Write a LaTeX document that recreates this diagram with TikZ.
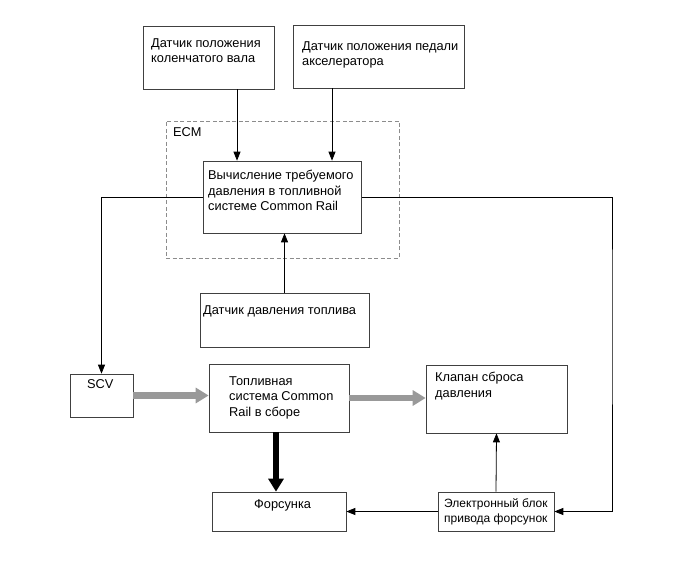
\documentclass[tikz,border=0pt]{standalone}
\usepackage{fontspec}
\setmainfont{Liberation Sans}
\usetikzlibrary{arrows.meta,calc}
\begin{document}
\begin{tikzpicture}[x=1pt,y=-1pt,
  box/.style={draw=black!75,line width=0.7pt,rectangle,inner sep=0pt},
  txt/.style={inner sep=0pt,anchor=north west,align=left,font=\fontsize{12.8}{15.5}\selectfont},
  smalltxt/.style={txt,font=\fontsize{12}{15.5}\selectfont},
  arr/.style={draw=black,line width=0.8pt,-{Triangle[length=9pt,width=7pt]}},
  garr/.style={draw=black!40,line width=6.5pt,-{Triangle[length=13pt,width=15pt]}},
  barr/.style={draw=black,line width=6.5pt,-{Triangle[length=13pt,width=15pt]}},
  ecmbox/.style={draw=black!45,line width=0.8pt,dash pattern=on 4pt off 2.5pt}
]
\useasboundingbox[fill=white] (0,0) rectangle (691,564);

% ECM dashed frame
\node[ecmbox,rectangle,inner sep=0pt,minimum width=233pt,minimum height=137pt] (ecm) at (282.5,189.5) {};
\node[txt] (ecml) at (173,127) {ECM};

% boxes
\node[box,minimum width=131pt,minimum height=63pt] (crank) at (208.5,57.5) {};
\node[txt] (crankt) at (151,38) {Датчик положения\\коленчатого вала};

\node[box,minimum width=171pt,minimum height=63pt] (pedal) at (378.5,56.5) {};
\node[txt] (pedalt) at (302,41) {Датчик положения педали\\акселератора};

\node[box,minimum width=158pt,minimum height=72pt] (calc) at (282.5,197) {};
\node[txt] (calct) at (208,170) {Вычисление требуемого\\давления в топливной\\системе Common Rail};

\node[box,minimum width=169pt,minimum height=54pt] (fps) at (284.5,320) {};
\node[txt] (fpst) at (203,305) {Датчик давления топлива};

\node[box,minimum width=63pt,minimum height=43pt] (scv) at (101.5,395.5) {};
\node[txt] (scvt) at (87,379) {SCV};

\node[box,minimum width=140pt,minimum height=68pt] (topl) at (279,398) {};
\node[txt] (toplt) at (229,376) {Топливная\\система Common\\Rail в сборе};

\node[box,minimum width=141pt,minimum height=68pt] (klap) at (496.5,399) {};
\node[txt] (klapt) at (435,372) {Клапан сброса\\давления};

\node[box,minimum width=134pt,minimum height=39pt] (fors) at (279,511.5) {};
\node[txt] (forst) at (254,499) {Форсунка};

\node[box,minimum width=116pt,minimum height=39pt] (elec) at (496,511.5) {};
\node[smalltxt] (elect) at (444,498) {Электронный блок\\привода форсунок};

\coordinate (rc) at (612,300);

% connectors
\draw[arr] (crank.south -| 237,0) -- (calc.north -| 237,0);
\draw[arr] (pedal.south -| 332,0) -- (calc.north -| 332,0);
\draw[arr] (fps.north) -- (calc.south -| fps.north);
\draw[arr] (calc.west) -| (scv.north);
\draw[arr] (calc.east) -| (rc) |- (elec.east);
\draw[arr] (elec.west) -- (fors.east);
\draw[arr] (elec.north) -- (klap.south);
\draw[garr] (scv.east) -- (scv.east -| topl.west);
\draw[garr] (topl.east) -- (topl.east -| klap.west);
\draw[barr] (topl.south -| 276,0) -- (fors.north -| 276,0);
\end{tikzpicture}
\end{document}
